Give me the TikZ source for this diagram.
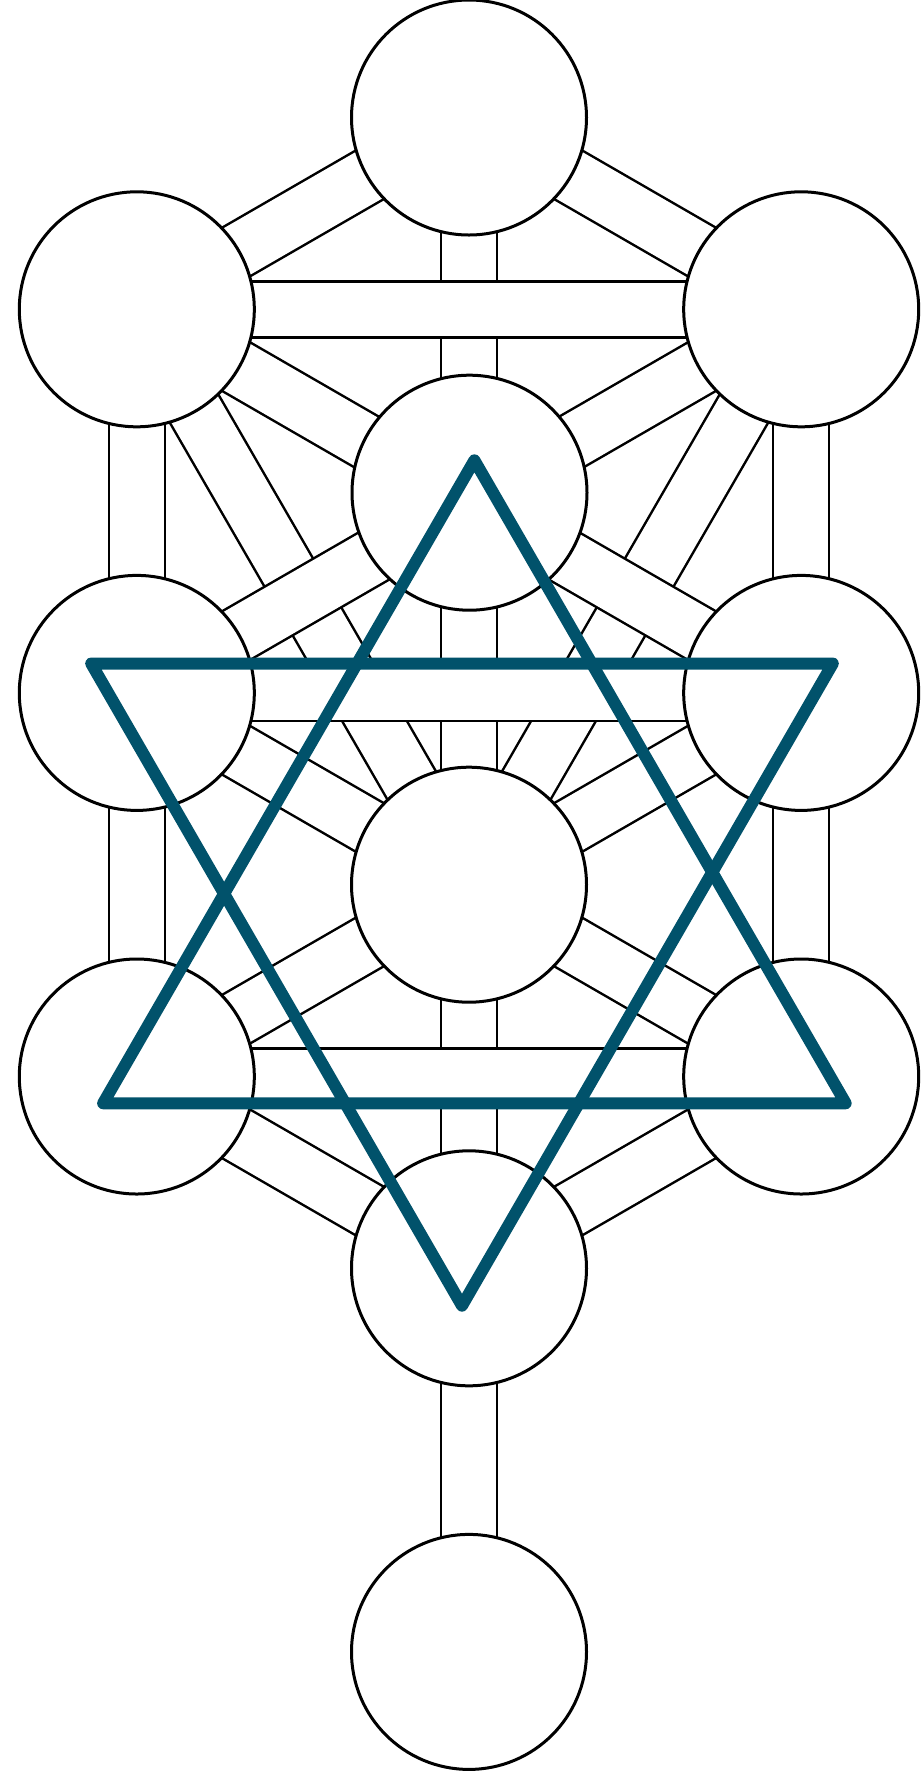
\documentclass[tikz,border=0pt]{standalone}
\definecolor{hexblue}{RGB}{1,82,107}
\tikzset{
  channel/.style={draw=black, line width=1.25pt, double=white, double distance=26.75pt},
  sephira/.style={circle, draw=black, fill=white, line width=1.5pt, minimum size=117.5pt, inner sep=0pt, outer sep=0pt},
  hexline/.style={draw=hexblue, line width=6pt, line join=round, line cap=round}
}
\begin{document}
\begin{tikzpicture}[x=0.5pt, y=-0.5pt]
\useasboundingbox (0,0) rectangle (924,1779);
% centres
\coordinate (kc) at (469,117.5);
\coordinate (bc) at (136.8,309.3);
\coordinate (cc) at (801.2,309.3);
\coordinate (dc) at (469.5,492.7);
\coordinate (gc) at (136.8,692.9);
\coordinate (hc) at (801.2,692.9);
\coordinate (tc) at (469,884.7);
\coordinate (oc) at (136.8,1076.5);
\coordinate (nc) at (801.2,1076.5);
\coordinate (yc) at (469,1268.3);
\coordinate (mc) at (469,1651.9);
% channels, bottom layer first
\draw[channel] (kc) -- (tc);
\draw[channel] (tc) -- (yc);
\draw[channel] (yc) -- (mc);
\draw[channel] (bc) -- (tc);
\draw[channel] (cc) -- (tc);
\draw[channel] (bc) -- (hc);
\draw[channel] (cc) -- (gc);
\draw[channel] (bc) -- (cc);
\draw[channel] (gc) -- (hc);
\draw[channel] (oc) -- (nc);
\draw[channel] (kc) -- (bc);
\draw[channel] (kc) -- (cc);
\draw[channel] (bc) -- (gc);
\draw[channel] (cc) -- (hc);
\draw[channel] (gc) -- (oc);
\draw[channel] (hc) -- (nc);
\draw[channel] (gc) -- (tc);
\draw[channel] (hc) -- (tc);
\draw[channel] (tc) -- (oc);
\draw[channel] (tc) -- (nc);
\draw[channel] (oc) -- (yc);
\draw[channel] (nc) -- (yc);
% spheres
\node[sephira] (kether) at (kc) {};
\node[sephira] (binah) at (bc) {};
\node[sephira] (chokmah) at (cc) {};
\node[sephira] (daath) at (dc) {};
\node[sephira] (geburah) at (gc) {};
\node[sephira] (chesed) at (hc) {};
\node[sephira] (tiphareth) at (tc) {};
\node[sephira] (hod) at (oc) {};
\node[sephira] (netzach) at (nc) {};
\node[sephira] (yesod) at (yc) {};
\node[sephira] (malkuth) at (mc) {};
% hexagram
\coordinate (ua) at (474.4,460.3);
\coordinate (ul) at (103.1,1103.3);
\coordinate (ur) at (845.7,1103.3);
\coordinate (dl) at (91.2,663.5);
\coordinate (dr) at (832.8,663.5);
\coordinate (da) at (462,1305.7);
\draw[hexline] (ua) -- (ul) -- (ur) -- cycle;
\draw[hexline] (dl) -- (dr) -- (da) -- cycle;
\end{tikzpicture}
\end{document}
